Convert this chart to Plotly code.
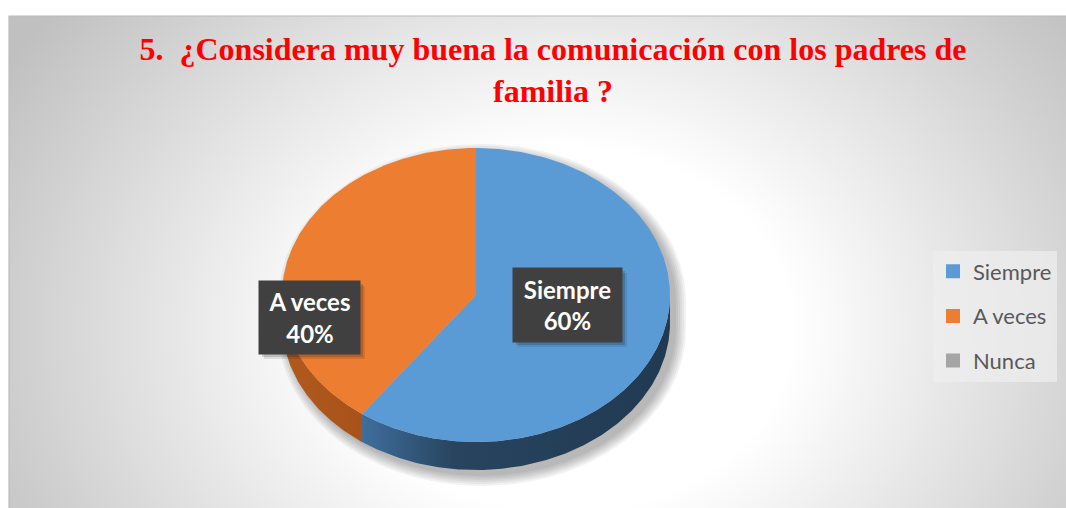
import numpy as np
import plotly.graph_objects as go

# ---------------- data ----------------
categories = ["Siempre", "A veces", "Nunca"]
values = [60, 40, 0]
top_colors = ["#5B9BD5", "#ED7D31", "#A5A5A5"]
title_text = "5.\u00a0 ¿Considera muy buena la comunicación con los padres de<br>familia ?"

# ---------------- geometry (pixel space) ----------------
W, H = 1066, 508
CX, CY, RX, RY, DEPTH = 476, 295, 194, 147, 28


def pt(theta_deg, dy=0.0, cx=CX, cy=CY, rx=RX, ry=RY):
    t = np.radians(theta_deg)
    return cx + rx * np.sin(t), cy - ry * np.cos(t) + dy


def arc(a, b, dy=0.0, n=None, **kw):
    n = n or max(int(abs(b - a) * 1.5), 2)
    th = np.linspace(a, b, n)
    x, y = pt(th, dy, **kw)
    return list(x), list(y)


fig = go.Figure()

# chart-area background with radial gradient (elliptical, centred at 565,330)
GX, GY, GRX, GRY = 565, 330, 650, 520
fig.add_trace(go.Scatter(
    x=[GX - GRX, GX + GRX, GX + GRX, GX - GRX, GX - GRX],
    y=[GY - GRY, GY - GRY, GY + GRY, GY + GRY, GY - GRY], mode="lines",
    fill="toself", line=dict(width=0),
    fillgradient=dict(type="radial",
                      colorscale=[[0, "#ffffff"], [0.35, "#ffffff"], [1, "#c0c0c0"]]),
    hoverinfo="skip", showlegend=False))
# white page outside the chart area (top strip and left strip)
fig.add_trace(go.Scatter(
    x=[-5, W + 5, W + 5, 9, 9, -5, -5], y=[-5, -5, 16, 16, H + 5, H + 5, -5],
    mode="lines", fill="toself", fillcolor="white", line=dict(width=0),
    hoverinfo="skip", showlegend=False))
# chart-area border
fig.add_trace(go.Scatter(x=[9, 9, W + 5], y=[H + 5, 16, 16], mode="lines",
                         line=dict(color="#bcbcbc", width=1.2),
                         hoverinfo="skip", showlegend=False))

# soft shadow of the pie
for k in range(6):
    kw = dict(cx=CX + 6, cy=CY + 6, rx=RX + 2 * k, ry=RY + 2 * k)
    xu, yu = arc(-90, 90, **kw)
    xl, yl = arc(90, 270, dy=DEPTH, **kw)
    fig.add_trace(go.Scatter(x=xu + xl + [xu[0]], y=yu + yl + [yu[0]], mode="lines",
                             fill="toself", fillcolor="rgba(0,0,0,0.05)",
                             line=dict(width=0), hoverinfo="skip", showlegend=False))

total = sum(values)
starts = np.cumsum([0] + values[:-1]) / total * 360
ends = np.cumsum(values) / total * 360

side_styles = [
    dict(fillgradient=dict(type="horizontal",
                           colorscale=[[0, "#3f6e9d"], [0.3, "#28445f"], [1, "#213a52"]])),
    dict(fillgradient=dict(type="horizontal",
                           colorscale=[[0, "#b25a1d"], [1, "#a8521a"]])),
    dict(fillcolor="#6e6e6e"),
]

# side walls (visible lower half only)
for i, (a, b) in enumerate(zip(starts, ends)):
    if b - a <= 0:
        continue
    lo, hi = max(a, 90), min(b, 270)
    if hi <= lo:
        continue
    xt, yt = arc(lo, hi)
    xb, yb = arc(hi, lo, dy=DEPTH)
    fig.add_trace(go.Scatter(x=xt + xb + [xt[0]], y=yt + yb + [yt[0]], mode="lines",
                             fill="toself", line=dict(width=0),
                             hoverinfo="skip", showlegend=False, **side_styles[i]))

# top faces
for i, (a, b) in enumerate(zip(starts, ends)):
    if b - a <= 0:
        continue
    xa, ya = arc(a, b)
    fig.add_trace(go.Scatter(x=[CX] + xa + [CX], y=[CY] + ya + [CY], mode="lines",
                             fill="toself", fillcolor=top_colors[i], line=dict(width=0),
                             hoverinfo="skip", showlegend=False))

# legend entries
for i, cat in enumerate(categories):
    fig.add_trace(go.Scatter(x=[None], y=[None], mode="markers", name=cat,
                             legendgroup=cat,
                             marker=dict(symbol="square", size=14, color=top_colors[i])))

# data labels (dark callout boxes with a soft drop shadow)
label_pos = {"Siempre": (567.5, 305), "A veces": (309.5, 317.5)}
label_size = {"Siempre": (97, 62), "A veces": (89, 61)}
PAD = 6
for cat, v in zip(categories, values):
    if v <= 0:
        continue
    x, y = label_pos[cat]
    w, h = label_size[cat]
    hw, hh = w / 2 + PAD, h / 2 + PAD
    for s, a in ((5, 0.10), (3, 0.15)):
        fig.add_shape(type="rect", xref="x", yref="y", layer="above",
                      x0=x - hw + s, x1=x + hw + s, y0=y - hh + s, y1=y + hh + s,
                      fillcolor=f"rgba(0,0,0,{a})", line=dict(width=0))
    fig.add_annotation(x=x, y=y, xref="x", yref="y", showarrow=False,
                       text=f"<b>{cat}<br>{v}%</b>", align="center",
                       width=w, height=h, borderpad=PAD, bgcolor="#404040",
                       font=dict(family="Lato", size=24, color="white"))

fig.update_layout(
    width=W, height=H, margin=dict(l=0, r=0, t=0, b=0, autoexpand=False),
    paper_bgcolor="white", plot_bgcolor="white",
    xaxis=dict(range=[0, W], visible=False, fixedrange=True),
    yaxis=dict(range=[H, 0], visible=False, fixedrange=True),
    title=dict(text=f"<b>{title_text}</b>", x=553 / W, xanchor="center",
               y=1 - 60 / H, yanchor="top",
               font=dict(family="Liberation Serif", size=32, color="#FF0000")),
    legend=dict(x=933 / W, xanchor="left", y=1 - 316 / H, yanchor="middle",
                bgcolor="rgba(238,238,238,0.75)", tracegroupgap=13,
                font=dict(family="Lato", size=22, color="#595959")),
    showlegend=True,
)

fig.write_html("out.html", config={"displayModeBar": False},
               post_script="document.body.style.margin='0';"
                           "document.body.style.overflow='hidden';")
